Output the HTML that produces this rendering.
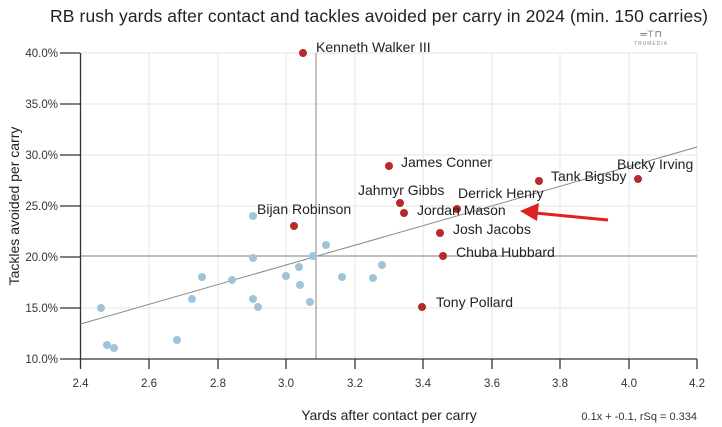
<!DOCTYPE html><html><head><style>body{margin:0;background:#fff}svg{display:block;font-family:"Liberation Sans",sans-serif}</style></head><body>
<svg width="722" height="427" viewBox="0 0 722 427">
<text x="379" y="22" font-size="17.5" text-anchor="middle" fill="#222" textLength="658">RB rush yards after contact and tackles avoided per carry in 2024 (min. 150 carries)</text>
<text x="651" y="37" font-size="9" fill="#555" text-anchor="middle">═⊤⊓</text>
<text x="651" y="45" font-size="5" fill="#888" text-anchor="middle" letter-spacing="1">TRUMEDIA</text>
<g stroke="#e4e4e4" stroke-width="1">
<line x1="149" y1="53" x2="149" y2="359"/><line x1="218" y1="53" x2="218" y2="359"/><line x1="286" y1="53" x2="286" y2="359"/><line x1="355" y1="53" x2="355" y2="359"/><line x1="423" y1="53" x2="423" y2="359"/><line x1="492" y1="53" x2="492" y2="359"/><line x1="560" y1="53" x2="560" y2="359"/><line x1="629" y1="53" x2="629" y2="359"/><line x1="697" y1="53" x2="697" y2="359"/>
<line x1="80" y1="53" x2="697" y2="53"/><line x1="80" y1="104" x2="697" y2="104"/><line x1="80" y1="155" x2="697" y2="155"/><line x1="80" y1="206" x2="697" y2="206"/><line x1="80" y1="308" x2="697" y2="308"/>
</g>
<line x1="80" y1="256" x2="697" y2="256" stroke="#999" stroke-width="1.2"/>
<line x1="316" y1="53" x2="316" y2="359" stroke="#999" stroke-width="1.2"/>
<g stroke="#333" stroke-width="1.3"><line x1="80.5" y1="53" x2="80.5" y2="359"/><line x1="80" y1="359" x2="697" y2="359"/>
<line x1="60" y1="53" x2="80" y2="53"/><line x1="60" y1="104" x2="80" y2="104"/><line x1="60" y1="155" x2="80" y2="155"/><line x1="60" y1="206" x2="80" y2="206"/><line x1="60" y1="257" x2="80" y2="257"/><line x1="60" y1="308" x2="80" y2="308"/><line x1="60" y1="359" x2="80" y2="359"/>
<line x1="80.5" y1="359" x2="80.5" y2="369"/><line x1="149" y1="359" x2="149" y2="369"/><line x1="218" y1="359" x2="218" y2="369"/><line x1="286" y1="359" x2="286" y2="369"/><line x1="355" y1="359" x2="355" y2="369"/><line x1="423" y1="359" x2="423" y2="369"/><line x1="492" y1="359" x2="492" y2="369"/><line x1="560" y1="359" x2="560" y2="369"/><line x1="629" y1="359" x2="629" y2="369"/><line x1="697" y1="359" x2="697" y2="369"/></g>
<g font-size="11.5" fill="#333" text-anchor="end">
<text x="58" y="57">40.0%</text><text x="58" y="108">35.0%</text><text x="58" y="159">30.0%</text><text x="58" y="210">25.0%</text><text x="58" y="261">20.0%</text><text x="58" y="312">15.0%</text><text x="58" y="363">10.0%</text></g>
<g font-size="11.5" fill="#333" text-anchor="middle">
<text x="80.5" y="387">2.4</text><text x="149" y="387">2.6</text><text x="218" y="387">2.8</text><text x="286" y="387">3.0</text><text x="355" y="387">3.2</text><text x="423" y="387">3.4</text><text x="492" y="387">3.6</text><text x="560" y="387">3.8</text><text x="629" y="387">4.0</text><text x="697" y="387">4.2</text></g>
<text x="389" y="420" font-size="14" fill="#222" text-anchor="middle">Yards after contact per carry</text>
<text x="697" y="420" font-size="11" fill="#333" text-anchor="end">0.1x + -0.1, rSq = 0.334</text>
<text transform="translate(19,206) rotate(-90)" font-size="14" fill="#222" text-anchor="middle">Tackles avoided per carry</text>
<line x1="80.5" y1="324" x2="697" y2="147" stroke="#888" stroke-width="1"/>
<g fill="#9ec3da">
<circle cx="101" cy="308" r="4"/><circle cx="107" cy="345" r="4"/><circle cx="114" cy="348" r="4"/><circle cx="177" cy="340" r="4"/><circle cx="192" cy="299" r="4"/><circle cx="202" cy="277" r="4"/><circle cx="232" cy="280" r="4"/><circle cx="253" cy="258" r="4"/><circle cx="253" cy="299" r="4"/><circle cx="258" cy="307" r="4"/><circle cx="286" cy="276" r="4"/><circle cx="299" cy="267" r="4"/><circle cx="300" cy="285" r="4"/><circle cx="310" cy="302" r="4"/><circle cx="313" cy="256" r="4"/><circle cx="326" cy="245" r="4"/><circle cx="342" cy="277" r="4"/><circle cx="373" cy="278" r="4"/><circle cx="382" cy="265" r="4"/><circle cx="253" cy="216" r="4"/>
</g>
<g fill="#b52a2a">
<circle cx="303" cy="53" r="4"/><circle cx="294" cy="226" r="4"/><circle cx="389" cy="166" r="4"/><circle cx="400" cy="203" r="4"/><circle cx="404" cy="213" r="4"/><circle cx="457" cy="209" r="4"/><circle cx="440" cy="233" r="4"/><circle cx="443" cy="256" r="4"/><circle cx="422" cy="307" r="4"/><circle cx="539" cy="181" r="4"/><circle cx="638" cy="179" r="4"/>
</g>
<g font-size="14" fill="#222">
<text x="316" y="52">Kenneth Walker III</text><text x="257" y="214">Bijan Robinson</text><text x="401" y="167">James Conner</text><text x="358" y="195">Jahmyr Gibbs</text><text x="458" y="198">Derrick Henry</text><text x="417" y="215">Jordan Mason</text><text x="453" y="234">Josh Jacobs</text><text x="456" y="257">Chuba Hubbard</text><text x="436" y="307">Tony Pollard</text><text x="551" y="181">Tank Bigsby</text><text x="617" y="169">Bucky Irving</text>
</g>
<line x1="608" y1="220" x2="535" y2="213" stroke="#e02020" stroke-width="3"/>
<polygon points="520,211 539,203 537,221" fill="#e02020"/>
</svg></body></html>
